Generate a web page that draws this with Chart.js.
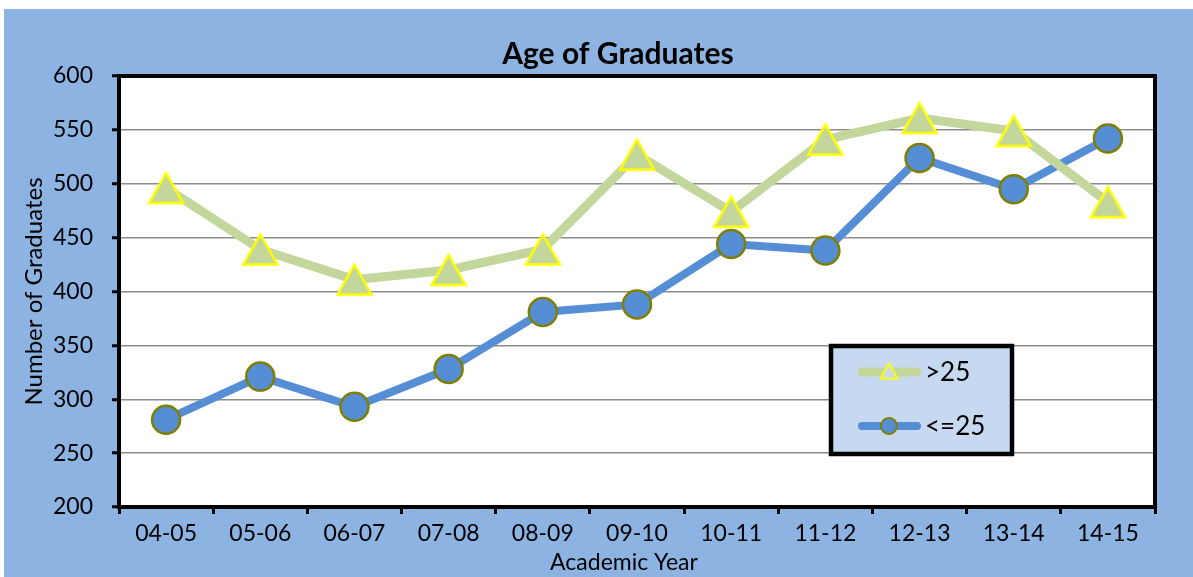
<!DOCTYPE html>
<html>
<head>
<meta charset="utf-8">
<script src="https://cdn.jsdelivr.net/npm/chart.js@4/dist/chart.umd.min.js"></script>
<style>
  html, body { margin: 0; padding: 0; background: #fff; }
  #wrap { width: 1193px; height: 577px; }
</style>
</head>
<body>
<div id="wrap"><canvas id="gradChart" width="1193" height="577"></canvas></div>
<script>
// data
const years = ['04-05', '05-06', '06-07', '07-08', '08-09', '09-10', '10-11', '11-12', '12-13', '13-14', '14-15'];
const over25 = [496, 439, 411, 420, 439, 527, 474, 541, 561, 549, 483];
const upTo25 = [281, 321, 293, 328, 381, 388, 444, 438, 524, 495, 542];
const yTicks = [200, 250, 300, 350, 400, 450, 500, 550, 600];

const FONT = 'Lato, "Open Sans", sans-serif';
const chartTitle = 'Age of Graduates';
const xTitle = 'Academic Year';

// triangle marker as a small canvas (centred on its box like the original)
function makeTriangle(w, h, fill, stroke, lw) {
    const c = document.createElement('canvas');
    c.width = w + lw * 2;
    c.height = h + lw * 2;
    const g = c.getContext('2d');
    g.beginPath();
    g.moveTo(c.width / 2, lw);
    g.lineTo(c.width - lw, c.height - lw);
    g.lineTo(lw, c.height - lw);
    g.closePath();
    g.fillStyle = fill;
    g.fill();
    g.lineWidth = lw;
    g.strokeStyle = stroke;
    g.lineJoin = 'miter';
    g.stroke();
    return c;
}
const triBig = makeTriangle(34, 30, '#C3D69B', '#FFFF00', 2.5);
const triSmall = makeTriangle(17, 15, '#C6D9F1', '#FFFF00', 2);

// background + white plot area + thick frame + titles + legend box
const frame = {
    id: 'frame',
    beforeDraw(chart) {
        const c = chart.ctx, a = chart.chartArea;
        c.save();
        c.fillStyle = '#fff';
        c.fillRect(0, 0, chart.width, chart.height);
        c.fillStyle = '#8DB3E2';
        c.fillRect(4, 9, chart.width - 4, chart.height - 9);
        c.fillStyle = '#fff';
        c.fillRect(a.left, a.top, a.right - a.left, a.bottom - a.top);
        c.restore();
    },
    afterDraw(chart) {
        const c = chart.ctx, a = chart.chartArea;
        c.save();
        c.lineWidth = 4;
        c.strokeStyle = '#000';
        c.strokeRect(a.left, a.top, a.right - a.left, a.bottom - a.top);

        // titles (Excel places them a little left of the plot centre)
        c.fillStyle = '#000';
        c.textAlign = 'center';
        c.textBaseline = 'middle';
        c.font = 'bold 30px ' + FONT;
        c.fillText(chartTitle, 618, 54);
        c.font = '23px ' + FONT;
        c.fillText(xTitle, 624, 563);

        const lx = 831, ly = 346, lw = 181, lh = 108;
        c.fillStyle = '#C6D9F1';
        c.fillRect(lx, ly, lw, lh);
        c.lineWidth = 4.5;
        c.strokeRect(lx, ly, lw, lh);
        const rows = [372, 426];
        chart.data.datasets.forEach(function(ds, i) {
            const y = rows[i];
            c.beginPath();
            c.lineCap = 'round';
            c.lineWidth = ds.borderWidth;
            c.strokeStyle = ds.borderColor;
            c.moveTo(862, y);
            c.lineTo(917, y);
            c.stroke();
            if (i === 0) {
                c.drawImage(triSmall, 889 - triSmall.width / 2, y - triSmall.height / 2 - 1);
            } else {
                c.beginPath();
                c.arc(889, y, 8, 0, Math.PI * 2);
                c.fillStyle = ds.pointBackgroundColor;
                c.fill();
                c.lineWidth = 2;
                c.strokeStyle = ds.pointBorderColor;
                c.stroke();
            }
            c.fillStyle = '#000';
            c.font = '26px ' + FONT;
            c.textBaseline = 'middle';
            c.textAlign = 'left';
            c.fillText(ds.label, 925, y + 1);
        });
        c.restore();
    }
};

const ctx = document.getElementById('gradChart').getContext('2d');
const gradChart = new Chart(ctx, {
    type: 'line',
    data: {
        labels: years,
        datasets: [{
            label: '>25',
            data: over25,
            borderColor: '#C3D69B',
            borderWidth: 9,
            pointStyle: triBig,
            pointBackgroundColor: '#C3D69B',
            pointBorderColor: '#FFFF00',
            tension: 0
        }, {
            label: '<=25',
            data: upTo25,
            borderColor: '#558ED5',
            borderWidth: 8,
            pointStyle: 'circle',
            pointRadius: 14,
            pointHoverRadius: 14,
            pointBorderWidth: 2.5,
            pointBackgroundColor: '#558ED5',
            pointBorderColor: '#7F7F00',
            tension: 0
        }]
    },
    options: {
        responsive: false,
        animation: false,
        layout: { padding: { left: 0, right: 38, top: 76, bottom: 0 } },
        plugins: {
            legend: { display: false },
            tooltip: { enabled: false },
            title: { display: false }
        },
        scales: {
            x: {
                offset: true,
                grid: {
                    offset: true,
                    drawOnChartArea: false,
                    drawTicks: true,
                    tickLength: 7,
                    tickColor: '#000',
                    tickWidth: 3
                },
                border: { display: false },
                ticks: {
                    color: '#000',
                    font: { family: FONT, size: 23 },
                    padding: 6,
                    maxRotation: 0
                },
                afterFit(scale) { scale.height = 70; }
            },
            y: {
                min: 200,
                max: 600,
                afterBuildTicks(scale) {
                    scale.ticks = yTicks.map(function(v) { return { value: v }; });
                },
                grid: {
                    color: '#8C8C8C',
                    lineWidth: 1.5,
                    tickLength: 7,
                    tickColor: '#000',
                    tickWidth: 3
                },
                border: { display: false },
                ticks: {
                    color: '#000',
                    font: { family: FONT, size: 23 },
                    padding: 19
                },
                title: {
                    display: true,
                    text: 'Number of Graduates',
                    color: '#000',
                    font: { family: FONT, size: 24 },
                    padding: { top: 20, bottom: 0 }
                },
                afterFit(scale) { scale.width = 119; }
            }
        }
    },
    plugins: [frame]
});
</script>
</body>
</html>
